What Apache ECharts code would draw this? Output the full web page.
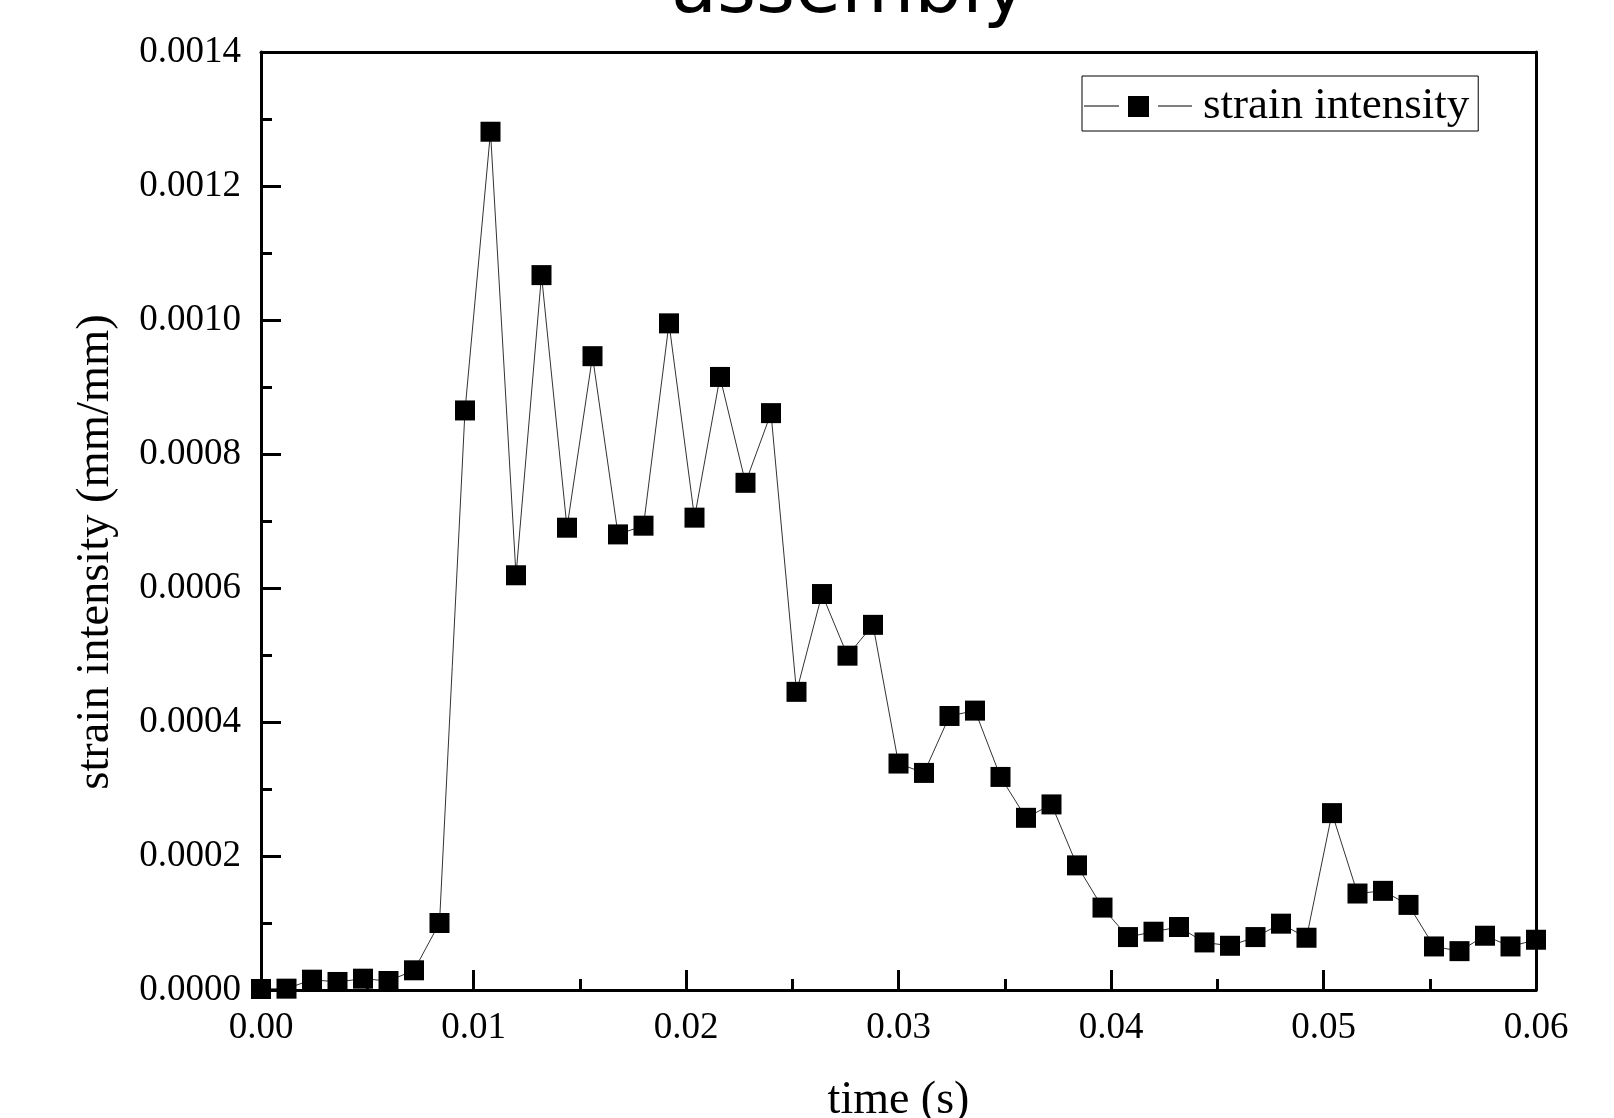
<!DOCTYPE html>
<html>
<head>
<meta charset="utf-8">
<script src="https://cdn.jsdelivr.net/npm/echarts@6/dist/echarts.min.js"></script>
<style>
html,body{margin:0;padding:0;background:#fff;}
#chart{width:1614px;height:1118px;}
</style>
</head>
<body>
<div id="chart"></div>
<script>
const titleText = 'assembly';
const seriesName = 'strain intensity';
const xName = 'time (s)';
const yName = 'strain intensity (mm/mm)';

const times = [0, 0.0012, 0.0024, 0.0036, 0.0048, 0.006, 0.0072, 0.0084, 0.0096, 0.0108,
  0.012, 0.0132, 0.0144, 0.0156, 0.0168, 0.018, 0.0192, 0.0204, 0.0216, 0.0228,
  0.024, 0.0252, 0.0264, 0.0276, 0.0288, 0.03, 0.0312, 0.0324, 0.0336, 0.0348,
  0.036, 0.0372, 0.0384, 0.0396, 0.0408, 0.042, 0.0432, 0.0444, 0.0456, 0.0468,
  0.048, 0.0492, 0.0504, 0.0516, 0.0528, 0.054, 0.0552, 0.0564, 0.0576, 0.0588, 0.06];

const strain = [0.0000015, 0.000002, 0.0000154, 0.000012, 0.0000169, 0.0000134, 0.0000294, 0.0001, 0.000865, 0.001281,
  0.000619, 0.001067, 0.00069, 0.000946, 0.00068, 0.000693, 0.000995, 0.000705, 0.000915, 0.000757,
  0.000861, 0.000445, 0.000591, 0.000499, 0.000545, 0.000338, 0.000324, 0.000409, 0.000417, 0.000318,
  0.000257, 0.000277, 0.000186, 0.000123, 0.000079, 0.000087, 0.000094, 0.000071, 0.000066, 0.000079,
  0.000099, 0.000078, 0.000264, 0.000144, 0.000148, 0.000127, 0.000065, 0.000058, 0.000081, 0.000065,
  0.000075];

const xTickLabels = ['0.00', '0.01', '0.02', '0.03', '0.04', '0.05', '0.06'];
const yTickLabels = ['0.0000', '0.0002', '0.0004', '0.0006', '0.0008', '0.0010', '0.0012', '0.0014'];

const serif = '"Liberation Serif", "Times New Roman", serif';
const G = {left: 261, right: 78, top: 52, bottom: 128};
const W = 1614, H = 1118;

// legend icon: short line, gap, square, gap, short line (Origin style)
const legendIcon = 'path://M0,11.4 h35 v1 h-35 Z M44,2 h21 v21 h-21 Z M74,11.4 h34 v1 h-34 Z';

const chart = echarts.init(document.getElementById('chart'), null, {renderer: 'canvas'});
const pts = times.map((t, i) => [t, strain[i]]);

const option = {
  animation: false,
  backgroundColor: '#fff',
  title: {
    text: titleText,
    left: 666,
    top: -50,
    z: 10,
    textStyle: {fontFamily: '"DejaVu Sans", sans-serif', fontSize: 75, fontWeight: 'normal', color: '#000'}
  },
  legend: {
    left: 1082,
    top: 76,
    z: 10,
    padding: [8, 9, 2, 2],
    borderColor: '#000',
    borderWidth: 1,
    itemWidth: 108,
    itemHeight: 21,
    textStyle: {fontFamily: serif, fontSize: 45, color: '#000', padding: [0, 0, 0, 6]},
    data: [{name: seriesName, icon: legendIcon}]
  },
  grid: {left: G.left, right: G.right, top: G.top, bottom: G.bottom, containLabel: false, outerBoundsMode: 'none'},
  graphic: {
    elements: [
      {type: 'rect', z: 3, silent: true, shape: {x: 0, y: 0, width: G.left, height: H}, style: {fill: '#fff'}},
      {type: 'rect', z: 3, silent: true, shape: {x: 0, y: H - G.bottom, width: W, height: G.bottom}, style: {fill: '#fff'}},
      {type: 'rect', z: 3, silent: true, shape: {x: W - G.right, y: 0, width: G.right, height: H}, style: {fill: '#fff'}}
    ]
  },
  xAxis: [{
    type: 'value', min: 0, max: 0.06, interval: 0.01, z: 5,
    name: xName, nameLocation: 'middle', nameGap: 88,
    nameTextStyle: {fontFamily: serif, fontSize: 46, color: '#000'},
    axisLine: {show: true, onZero: false, lineStyle: {color: '#000', width: 3}},
    axisTick: {show: true, inside: true, length: 20, lineStyle: {color: '#000', width: 3}},
    minorTick: {show: true, splitNumber: 2, length: 11, lineStyle: {color: '#000', width: 3}},
    axisLabel: {margin: 20, fontFamily: serif, fontSize: 37, color: '#000',
      formatter: v => xTickLabels[Math.round(v / 0.01)]},
    splitLine: {show: false}
  }, {
    type: 'value', position: 'top', min: 0, max: 0.06, z: 5,
    axisLine: {show: true, onZero: false, lineStyle: {color: '#000', width: 3}},
    axisTick: {show: false}, axisLabel: {show: false}, splitLine: {show: false}
  }],
  yAxis: [{
    type: 'value', min: 0, max: 0.0014, interval: 0.0002, z: 5,
    name: yName, nameLocation: 'middle', nameGap: 142, nameRotate: 90,
    nameTextStyle: {fontFamily: serif, fontSize: 46.5, color: '#000', padding: [0, 62, 0, 0]},
    axisLine: {show: true, onZero: false, lineStyle: {color: '#000', width: 3}},
    axisTick: {show: true, inside: true, length: 20, lineStyle: {color: '#000', width: 3}},
    minorTick: {show: true, splitNumber: 2, length: 11, lineStyle: {color: '#000', width: 3}},
    axisLabel: {margin: 20, fontFamily: serif, fontSize: 37, color: '#000',
      formatter: v => yTickLabels[Math.round(v / 0.0002)]},
    splitLine: {show: false}
  }, {
    type: 'value', position: 'right', min: 0, max: 0.0014, z: 5,
    axisLine: {show: true, onZero: false, lineStyle: {color: '#000', width: 3}},
    axisTick: {show: false}, axisLabel: {show: false}, splitLine: {show: false}
  }],
  series: [{
    name: seriesName,
    type: 'line',
    xAxisIndex: 0,
    yAxisIndex: 0,
    data: pts,
    clip: false,
    symbol: 'rect',
    symbolSize: 20,
    showAllSymbol: true,
    itemStyle: {color: '#000'},
    lineStyle: {color: '#333', width: 1}
  }]
};
chart.setOption(option);
</script>
</body>
</html>
